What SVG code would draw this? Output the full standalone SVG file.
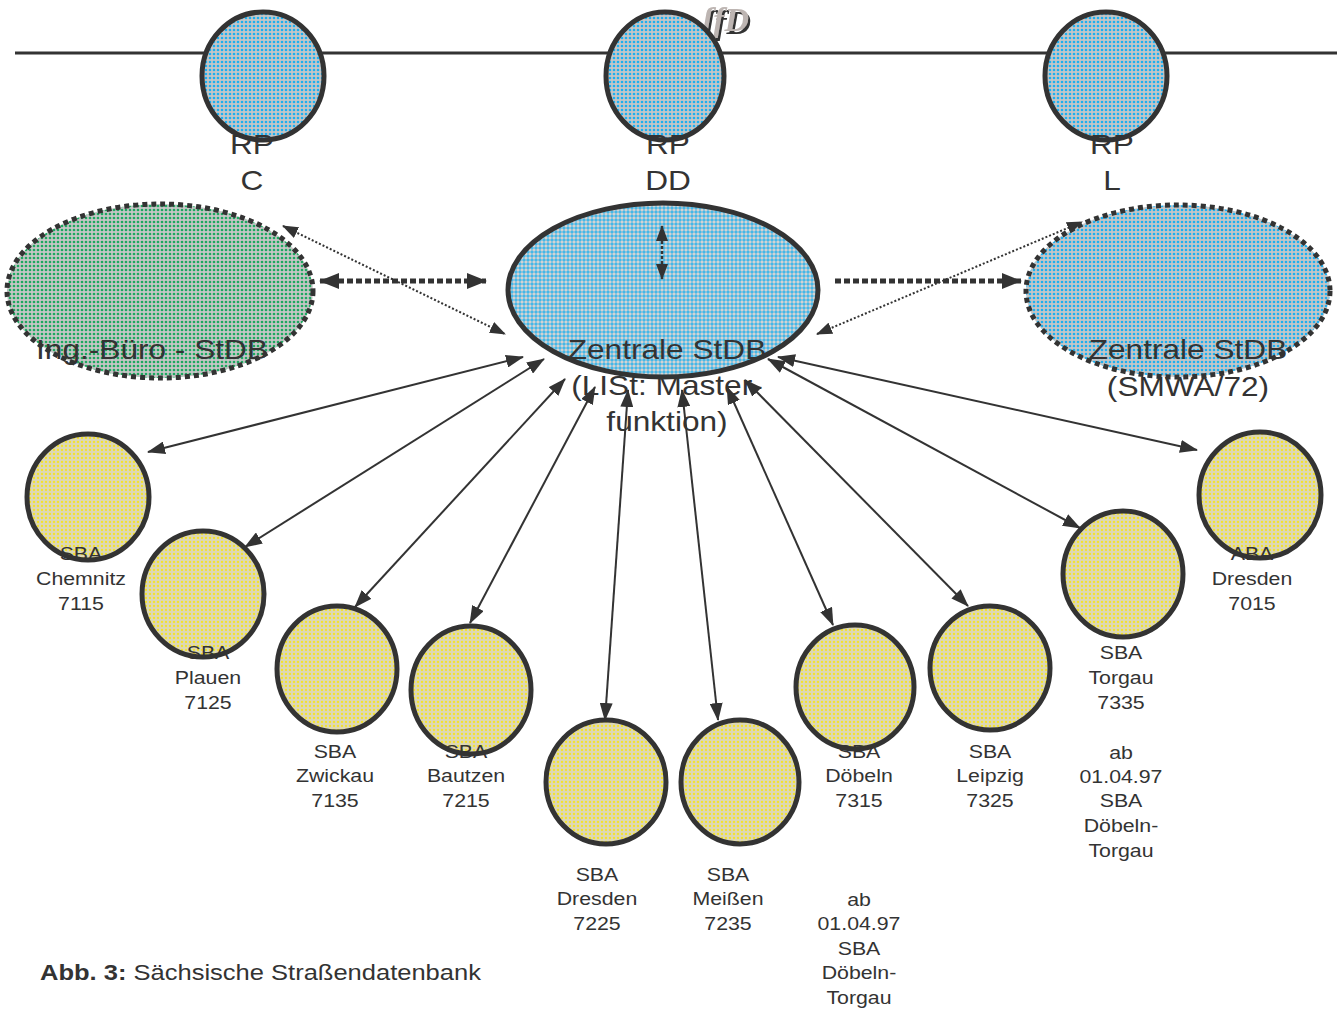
<svg xmlns="http://www.w3.org/2000/svg" width="1337" height="1012" viewBox="0 0 1337 1012">
<defs>
  <pattern id="pYellow" width="4" height="4" patternUnits="userSpaceOnUse">
    <rect width="4" height="4" fill="#ddd8b6"/>
    <circle cx="2" cy="2" r="1.15" fill="#f4e22c"/>
  </pattern>
  <pattern id="pBlueDot" width="4" height="4" patternUnits="userSpaceOnUse">
    <rect width="4" height="4" fill="#c6c6c6"/>
    <circle cx="2" cy="2" r="1.3" fill="#1eaff0"/>
  </pattern>
  <pattern id="pGreen" width="4" height="4" patternUnits="userSpaceOnUse">
    <rect width="4" height="4" fill="#c6c6c6"/>
    <circle cx="2" cy="2" r="1.35" fill="#1ea860"/>
  </pattern>
  <pattern id="pCross" width="4" height="4" patternUnits="userSpaceOnUse">
    <rect width="4" height="4" fill="#45b7e8"/>
    <path d="M2 0 L4 2 L2 4 L0 2 Z" fill="#cfcfcf"/>
    <path d="M2 1 L3 2 L2 3 L1 2 Z" fill="#d8d8d8"/>
  </pattern>
  <filter id="shadow" x="-20%" y="-20%" width="140%" height="140%">
    <feDropShadow dx="2" dy="3" stdDeviation="0" flood-color="#333"/>
  </filter>
  <marker id="ah" viewBox="0 0 18 13" refX="17" refY="6.5" markerWidth="18" markerHeight="13" markerUnits="userSpaceOnUse" orient="auto-start-reverse">
    <path d="M0 0 L18 6.5 L0 13 Z" fill="#333"/>
  </marker>
  <marker id="ahBig" viewBox="0 0 20 16" refX="19" refY="8" markerWidth="20" markerHeight="16" markerUnits="userSpaceOnUse" orient="auto-start-reverse">
    <path d="M0 0 L20 8 L0 16 Z" fill="#333"/>
  </marker>
  <marker id="ahMid" viewBox="0 0 16 12" refX="15" refY="6" markerWidth="16" markerHeight="12" markerUnits="userSpaceOnUse" orient="auto-start-reverse">
    <path d="M0 0 L16 6 L0 12 Z" fill="#333"/>
  </marker>
</defs>
<style>
  .solid { stroke: #333; stroke-width: 5; }
  .dotted { stroke: #333; stroke-width: 5; stroke-dasharray: 5 4; }
  .yel { fill: url(#pYellow); stroke: #333; stroke-width: 5; }
  .big { font-family: "Liberation Sans", Arial, sans-serif; font-size: 28px; fill: #333; text-anchor: middle; }
  .sm { font-family: "Liberation Sans", Arial, sans-serif; font-size: 18.7px; fill: #333; text-anchor: middle; }
  .conn { stroke: #333; stroke-width: 2; fill: none; marker-start: url(#ah); marker-end: url(#ah); }
  .thindot { stroke: #333; stroke-width: 2; stroke-dasharray: 2 2; fill: none; }
  .thickdot { stroke: #333; stroke-width: 5; stroke-dasharray: 6 3; fill: none; }
</style>
<rect width="1337" height="1012" fill="#fff"/>

<line x1="15" y1="53" x2="1337" y2="53" stroke="#333" stroke-width="3"/>

<g id="artifact">
  <text x="702" y="31" font-family="Liberation Serif, serif" font-size="34" font-weight="bold" font-style="italic" fill="#bdb5b2" filter="url(#shadow)">ʃfD</text>
</g>

<g id="rp-c">
  <ellipse cx="263" cy="76" rx="61" ry="64" fill="url(#pBlueDot)" class="solid"/>
  <g transform="translate(252 0) scale(1.13 1) translate(-252 0)">
    <text class="big" x="252" y="154">RP</text>
    <text class="big" x="252" y="190">C</text>
  </g>
</g>
<g id="rp-dd">
  <ellipse cx="665" cy="76" rx="59" ry="64" fill="url(#pBlueDot)" class="solid"/>
  <g transform="translate(668 0) scale(1.13 1) translate(-668 0)">
    <text class="big" x="668" y="154">RP</text>
    <text class="big" x="668" y="190">DD</text>
  </g>
</g>
<g id="rp-l">
  <ellipse cx="1106" cy="76" rx="61" ry="64" fill="url(#pBlueDot)" class="solid"/>
  <g transform="translate(1112 0) scale(1.13 1) translate(-1112 0)">
    <text class="big" x="1112" y="154">RP</text>
    <text class="big" x="1112" y="190">L</text>
  </g>
</g>

<g id="ing-buero">
  <ellipse cx="160" cy="291" rx="153" ry="87" fill="url(#pGreen)" class="dotted"/>
  <g transform="translate(152 0) scale(1.13 1) translate(-152 0)">
    <text class="big" x="152" y="359">Ing.-Büro - StDB</text>
  </g>
</g>
<g id="zentrale-list">
  <ellipse cx="663" cy="290" rx="155" ry="87" fill="url(#pCross)" class="solid"/>
  <g transform="translate(667 0) scale(1.13 1) translate(-667 0)">
    <text class="big" x="667" y="359">Zentrale StDB</text>
    <text class="big" x="667" y="395">(LISt: Master-</text>
    <text class="big" x="667" y="431">funktion)</text>
  </g>
</g>
<g id="zentrale-smwa">
  <ellipse cx="1178" cy="291" rx="152" ry="86" fill="url(#pBlueDot)" class="dotted"/>
  <g transform="translate(1188 0) scale(1.13 1) translate(-1188 0)">
    <text class="big" x="1188" y="359">Zentrale StDB</text>
    <text class="big" x="1188" y="396">(SMWA/72)</text>
  </g>
</g>

<g id="sba-chemnitz">
  <ellipse class="yel" cx="88" cy="497" rx="61" ry="63"/>
  <g transform="translate(81 0) scale(1.14 1) translate(-81 0)">
    <text class="sm" x="81" y="560">SBA</text>
    <text class="sm" x="81" y="585">Chemnitz</text>
    <text class="sm" x="81" y="610">7115</text>
  </g>
</g>
<g id="sba-plauen">
  <ellipse class="yel" cx="203" cy="594" rx="61" ry="63"/>
  <g transform="translate(208 0) scale(1.14 1) translate(-208 0)">
    <text class="sm" x="208" y="659">SBA</text>
    <text class="sm" x="208" y="684">Plauen</text>
    <text class="sm" x="208" y="709">7125</text>
  </g>
</g>
<g id="sba-zwickau">
  <ellipse class="yel" cx="337" cy="669" rx="60" ry="63"/>
  <g transform="translate(335 0) scale(1.14 1) translate(-335 0)">
    <text class="sm" x="335" y="758">SBA</text>
    <text class="sm" x="335" y="782">Zwickau</text>
    <text class="sm" x="335" y="807">7135</text>
  </g>
</g>
<g id="sba-bautzen">
  <ellipse class="yel" cx="471" cy="690" rx="60" ry="64"/>
  <g transform="translate(466 0) scale(1.14 1) translate(-466 0)">
    <text class="sm" x="466" y="758">SBA</text>
    <text class="sm" x="466" y="782">Bautzen</text>
    <text class="sm" x="466" y="807">7215</text>
  </g>
</g>
<g id="sba-dresden">
  <ellipse class="yel" cx="606" cy="782" rx="60" ry="62"/>
  <g transform="translate(597 0) scale(1.14 1) translate(-597 0)">
    <text class="sm" x="597" y="881">SBA</text>
    <text class="sm" x="597" y="905">Dresden</text>
    <text class="sm" x="597" y="930">7225</text>
  </g>
</g>
<g id="sba-meissen">
  <ellipse class="yel" cx="740" cy="782" rx="59" ry="62"/>
  <g transform="translate(728 0) scale(1.14 1) translate(-728 0)">
    <text class="sm" x="728" y="881">SBA</text>
    <text class="sm" x="728" y="905">Meißen</text>
    <text class="sm" x="728" y="930">7235</text>
  </g>
</g>
<g id="sba-doebeln">
  <ellipse class="yel" cx="855" cy="687" rx="59" ry="62"/>
  <g transform="translate(859 0) scale(1.14 1) translate(-859 0)">
    <text class="sm" x="859" y="758">SBA</text>
    <text class="sm" x="859" y="782">Döbeln</text>
    <text class="sm" x="859" y="807">7315</text>
    <text class="sm" x="859" y="906">ab</text>
    <text class="sm" x="859" y="930">01.04.97</text>
    <text class="sm" x="859" y="955">SBA</text>
    <text class="sm" x="859" y="979">Döbeln-</text>
    <text class="sm" x="859" y="1004">Torgau</text>
  </g>
</g>
<g id="sba-leipzig">
  <ellipse class="yel" cx="990" cy="668" rx="60" ry="62"/>
  <g transform="translate(990 0) scale(1.14 1) translate(-990 0)">
    <text class="sm" x="990" y="758">SBA</text>
    <text class="sm" x="990" y="782">Leipzig</text>
    <text class="sm" x="990" y="807">7325</text>
  </g>
</g>
<g id="sba-torgau">
  <ellipse class="yel" cx="1123" cy="574" rx="60" ry="63"/>
  <g transform="translate(1121 0) scale(1.14 1) translate(-1121 0)">
    <text class="sm" x="1121" y="659">SBA</text>
    <text class="sm" x="1121" y="684">Torgau</text>
    <text class="sm" x="1121" y="709">7335</text>
    <text class="sm" x="1121" y="759">ab</text>
    <text class="sm" x="1121" y="783">01.04.97</text>
    <text class="sm" x="1121" y="807">SBA</text>
    <text class="sm" x="1121" y="832">Döbeln-</text>
    <text class="sm" x="1121" y="857">Torgau</text>
  </g>
</g>
<g id="aba-dresden">
  <ellipse class="yel" cx="1260" cy="495" rx="61" ry="63"/>
  <g transform="translate(1252 0) scale(1.14 1) translate(-1252 0)">
    <text class="sm" x="1252" y="560">ABA</text>
    <text class="sm" x="1252" y="585">Dresden</text>
    <text class="sm" x="1252" y="610">7015</text>
  </g>
</g>

<g id="connectors">
  <line class="thickdot" x1="320" y1="281" x2="486" y2="281" marker-start="url(#ahBig)" marker-end="url(#ahBig)"/>
  <line class="thickdot" x1="835" y1="281" x2="1021" y2="281" marker-end="url(#ahBig)"/>
  <line class="thindot" x1="283" y1="226" x2="505" y2="334" marker-start="url(#ahMid)" marker-end="url(#ahMid)"/>
  <line class="thindot" x1="817" y1="334" x2="1082" y2="222" marker-start="url(#ahMid)" marker-end="url(#ahMid)"/>
  <line x1="662" y1="226" x2="662" y2="279" stroke="#333" stroke-width="2.5" stroke-dasharray="3 2" marker-start="url(#ahMid)" marker-end="url(#ahMid)"/>

  <line class="conn" x1="523" y1="357" x2="148" y2="452"/>
  <line class="conn" x1="544" y1="359" x2="245" y2="547"/>
  <line class="conn" x1="565" y1="379" x2="355" y2="607"/>
  <line class="conn" x1="595" y1="387" x2="470" y2="623"/>
  <line class="conn" x1="628" y1="390" x2="605" y2="720"/>
  <line class="conn" x1="682" y1="390" x2="718" y2="720"/>
  <line class="conn" x1="727" y1="387" x2="833" y2="625"/>
  <line class="conn" x1="745" y1="380" x2="968" y2="606"/>
  <line class="conn" x1="768" y1="359" x2="1080" y2="528"/>
  <line class="conn" x1="778" y1="357" x2="1197" y2="450"/>
</g>

<g id="caption" transform="translate(40 0) scale(1.16 1) translate(-40 0)">
  <text x="40" y="980" font-family="Liberation Sans, Arial, sans-serif" font-size="22" fill="#333"><tspan font-weight="bold">Abb. 3:</tspan> Sächsische Straßendatenbank</text>
</g>
</svg>
